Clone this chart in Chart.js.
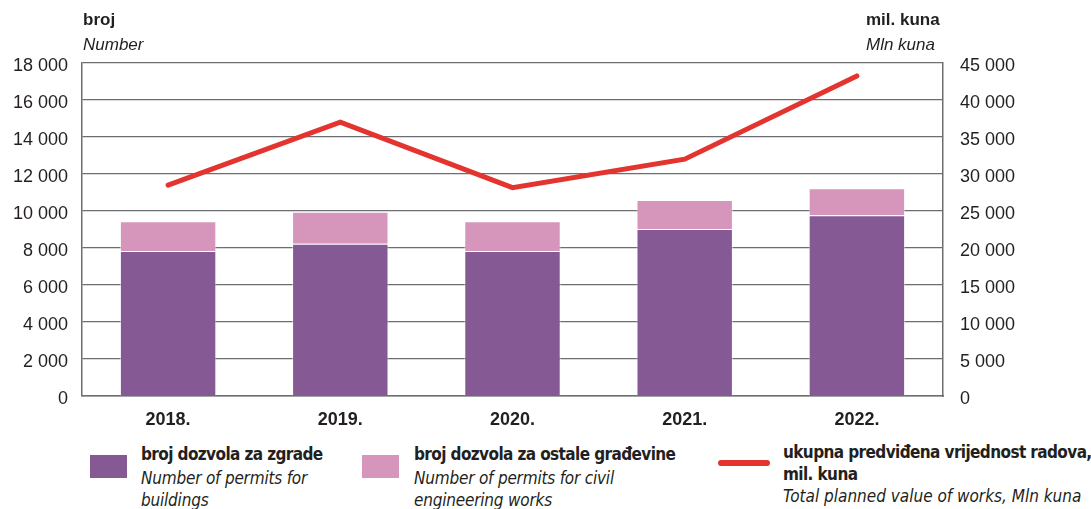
<!DOCTYPE html>
<html>
<head>
<meta charset="utf-8">
<script src="https://cdn.jsdelivr.net/npm/chart.js@4.4.1/dist/chart.umd.min.js"></script>
<style>
  body { margin: 0; background: #fff; font-family: "DejaVu Sans Condensed", "DejaVu Sans", sans-serif; font-stretch: condensed; color: #231f20; }
  #wrap { position: relative; width: 1091px; height: 509px; overflow: hidden; }
  #chartBox { position: absolute; left: 0; top: 0; width: 1091px; height: 430px; }
  .t { position: absolute; white-space: nowrap; font-size: 17px; line-height: 22px; letter-spacing: -0.2px; }
  .s { font-weight: bold; letter-spacing: -0.6px; }
  .b { font-family: "Liberation Sans", sans-serif; font-stretch: normal; letter-spacing: 0; font-weight: bold; font-size: 17px; }
  .i { font-style: italic; }
  .sw { position: absolute; width: 37px; height: 23px; }
</style>
</head>
<body>
<div id="wrap">
  <div id="chartBox"><canvas id="permitsChart"></canvas></div>

  <div class="t b" style="left:83px; top:9px;">broj</div>
  <div class="t i" style="left:83px; top:34px; font-family:'Liberation Sans',sans-serif; font-stretch:normal; letter-spacing:0;">Number</div>
  <div class="t b" style="left:866px; top:9px;">mil. kuna</div>
  <div class="t i" style="left:866px; top:34px; font-family:'Liberation Sans',sans-serif; font-stretch:normal; letter-spacing:0;">Mln kuna</div>

  <div class="sw" style="left:90px; top:455px; background:#855a94;"></div>
  <div class="t s" style="left:141px; top:443px;">broj dozvola za zgrade</div>
  <div class="t i" style="left:141px; top:467px;">Number of permits for</div>
  <div class="t i" style="left:141px; top:489px;">buildings</div>

  <div class="sw" style="left:362px; top:455px; background:#d696bb;"></div>
  <div class="t s" style="left:414px; top:443px;">broj dozvola za ostale građevine</div>
  <div class="t i" style="left:414px; top:467px;">Number of permits for civil</div>
  <div class="t i" style="left:414px; top:489px;">engineering works</div>

  <div style="position:absolute; left:718px; top:460px; width:52px; height:6px; border-radius:3px; background:#e3342f;"></div>
  <div class="t s" style="left:783px; top:441px;">ukupna predviđena vrijednost radova,</div>
  <div class="t s" style="left:783px; top:463px;">mil. kuna</div>
  <div class="t i" style="left:783px; top:485px; letter-spacing:0;">Total planned value of works, Mln kuna</div>
</div>

<script>
const years = ['2018.', '2019.', '2020.', '2021.', '2022.'];
const permitsBuildings = [7840, 8230, 7840, 9030, 9770];
const permitsCivil = [1600, 1730, 1600, 1570, 1460];
const plannedValue = [28500, 37000, 28150, 32000, 43250];

const fmt = v => String(v).replace(/\B(?=(\d{3})+(?!\d))/g, ' ');

const tickFont = { family: '"Liberation Sans", sans-serif', size: 18 };
const textColor = '#231f20';
const lineColor = '#6d6e71';

const ctx = document.getElementById('permitsChart').getContext('2d');
const permitsChart = new Chart(ctx, {
    data: {
        labels: years,
        datasets: [
            {
                type: 'line',
                label: 'ukupna predviđena vrijednost radova, mil. kuna',
                data: plannedValue,
                yAxisID: 'y1',
                borderColor: '#e3342f',
                borderWidth: 5,
                borderCapStyle: 'round',
                pointRadius: 0,
                tension: 0,
                order: 0
            },
            {
                type: 'bar',
                label: 'broj dozvola za zgrade',
                data: permitsBuildings,
                backgroundColor: '#855a94',
                borderColor: 'rgba(255,255,255,0.5)',
                borderWidth: 1,
                yAxisID: 'y',
                order: 1
            },
            {
                type: 'bar',
                label: 'broj dozvola za ostale građevine',
                data: permitsCivil,
                backgroundColor: '#d696bb',
                borderColor: 'rgba(255,255,255,0.5)',
                borderWidth: 1,
                yAxisID: 'y',
                order: 2
            }
        ]
    },
    options: {
        responsive: true,
        maintainAspectRatio: false,
        animation: false,
        categoryPercentage: 1,
        barPercentage: 0.56,
        layout: { padding: { top: 63, left: 0, right: 0, bottom: 0 } },
        plugins: {
            legend: { display: false },
            tooltip: { enabled: false }
        },
        scales: {
            x: {
                stacked: true,
                grid: { display: false },
                border: { display: true, color: lineColor, width: 1.5 },
                ticks: {
                    color: textColor,
                    padding: 5,
                    font: { family: '"Liberation Sans", sans-serif', size: 18, weight: 'bold' }
                },
                afterFit: s => { s.height = 34; }
            },
            y: {
                stacked: true,
                position: 'left',
                min: 0,
                max: 18000,
                grid: { color: lineColor, lineWidth: 1.2, drawTicks: false },
                border: { display: true, color: lineColor, width: 1.5 },
                ticks: {
                    stepSize: 2000,
                    padding: 14,
                    labelOffset: 3,
                    color: textColor,
                    font: tickFont,
                    callback: v => fmt(v)
                },
                afterFit: s => { s.width = 82; }
            },
            y1: {
                stacked: false,
                position: 'right',
                min: 0,
                max: 45000,
                grid: { display: false, drawTicks: false },
                border: { display: true, color: lineColor, width: 1.5 },
                ticks: {
                    stepSize: 5000,
                    padding: 17,
                    labelOffset: 3,
                    color: textColor,
                    font: tickFont,
                    callback: v => fmt(v)
                },
                afterFit: s => { s.width = 148; }
            }
        }
    }
});
</script>
</body>
</html>
